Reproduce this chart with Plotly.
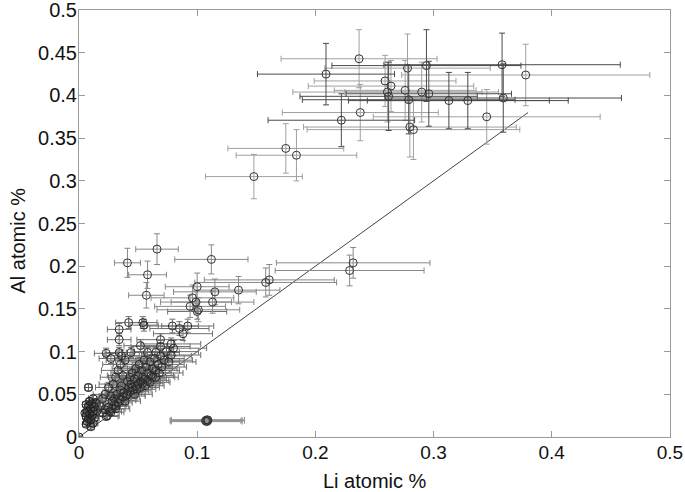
import plotly.graph_objects as go

# ---------------- data (Li atomic %, Al atomic %, x error, y error) ----------------
# upper cluster, dark error bars
upd_x = [0.209, 0.294, 0.358, 0.359, 0.279, 0.313, 0.329, 0.222, 0.262, 0.296]
upd_y = [0.425, 0.435, 0.436, 0.397, 0.395, 0.394, 0.394, 0.371, 0.399, 0.402]
upd_ex = [0.058, 0.080, 0.100, 0.100, 0.090, 0.085, 0.085, 0.062, 0.075, 0.070]
upd_ey = [0.036, 0.042, 0.037, 0.040, 0.040, 0.033, 0.033, 0.031, 0.040, 0.038]

# upper cluster, light error bars
upl_x = [0.237, 0.259, 0.264, 0.261, 0.278, 0.276, 0.290, 0.345, 0.238, 0.280, 0.283,
         0.175, 0.184, 0.148, 0.378]
upl_y = [0.443, 0.417, 0.411, 0.404, 0.432, 0.406, 0.404, 0.375, 0.380, 0.363, 0.360,
         0.338, 0.330, 0.305, 0.424]
upl_ex = [0.066, 0.060, 0.070, 0.080, 0.070, 0.060, 0.065, 0.096, 0.066, 0.090, 0.090,
          0.049, 0.051, 0.041, 0.105]
upl_ey = [0.034, 0.030, 0.030, 0.035, 0.040, 0.035, 0.035, 0.032, 0.033, 0.035, 0.035,
          0.029, 0.030, 0.026, 0.036]

# middle cluster
mid_x = [0.066, 0.041, 0.058, 0.057, 0.112, 0.100, 0.115, 0.096, 0.113, 0.094, 0.101, 0.099,
         0.135, 0.158, 0.161, 0.232, 0.229]
mid_y = [0.220, 0.204, 0.190, 0.166, 0.208, 0.176, 0.170, 0.163, 0.158, 0.153, 0.149, 0.158,
         0.172, 0.181, 0.184, 0.204, 0.195]
mid_ex = [0.018, 0.011, 0.016, 0.015, 0.031, 0.027, 0.035, 0.035, 0.035, 0.030, 0.035, 0.030,
          0.035, 0.060, 0.055, 0.065, 0.063]
mid_ey = [0.018, 0.017, 0.016, 0.015, 0.017, 0.016, 0.015, 0.015, 0.013, 0.013, 0.014, 0.013,
          0.016, 0.017, 0.018, 0.018, 0.018]

# lower cluster
low_x = [0.042, 0.054, 0.034, 0.034, 0.034, 0.044, 0.052, 0.023, 0.027, 0.069, 0.069, 0.079,
         0.085, 0.092, 0.088, 0.078, 0.065, 0.058, 0.100, 0.055,
         0.025, 0.028, 0.030, 0.032, 0.034, 0.035, 0.036, 0.038, 0.040, 0.041, 0.042, 0.043,
         0.044, 0.045, 0.046, 0.047, 0.048, 0.049, 0.050, 0.051, 0.052, 0.053, 0.054, 0.055,
         0.056, 0.057, 0.058, 0.060, 0.061, 0.062, 0.064, 0.065, 0.067, 0.069, 0.070, 0.072,
         0.074, 0.076, 0.078, 0.080,
         0.020, 0.022, 0.024, 0.026, 0.028, 0.030, 0.031, 0.033, 0.035, 0.037, 0.039, 0.041,
         0.043, 0.045, 0.047, 0.049, 0.050, 0.052, 0.054, 0.056, 0.058, 0.060, 0.062, 0.065,
         0.068, 0.015, 0.018, 0.020, 0.022, 0.025, 0.027, 0.029, 0.031, 0.033, 0.035, 0.037,
         0.039, 0.036, 0.023, 0.027, 0.031]
low_y = [0.134, 0.134, 0.126, 0.114, 0.099, 0.099, 0.107, 0.098, 0.092, 0.114, 0.106, 0.130,
         0.127, 0.130, 0.121, 0.109, 0.099, 0.099, 0.147, 0.131,
         0.035, 0.042, 0.038, 0.050, 0.045, 0.055, 0.060, 0.052, 0.048, 0.065, 0.058, 0.070,
         0.062, 0.075, 0.055, 0.068, 0.080, 0.060, 0.072, 0.085, 0.065, 0.078, 0.070, 0.090,
         0.068, 0.082, 0.075, 0.088, 0.072, 0.080, 0.092, 0.078, 0.085, 0.095, 0.082, 0.090,
         0.100, 0.088, 0.096, 0.104,
         0.028, 0.032, 0.025, 0.030, 0.033, 0.045, 0.036, 0.040, 0.043, 0.047, 0.042, 0.050,
         0.053, 0.058, 0.050, 0.056, 0.062, 0.058, 0.063, 0.060, 0.066, 0.064, 0.070, 0.070,
         0.075, 0.030, 0.036, 0.045, 0.050, 0.058, 0.048, 0.062, 0.070, 0.078, 0.085, 0.072,
         0.090, 0.095, 0.024, 0.029, 0.033]
low_ex = [0.011, 0.012, 0.010, 0.010, 0.012, 0.012, 0.014, 0.010, 0.010, 0.020, 0.025, 0.022,
          0.025, 0.022, 0.025, 0.025, 0.020, 0.018, 0.025, 0.012,
          0.010, 0.012, 0.010, 0.012, 0.015, 0.012, 0.014, 0.015, 0.016, 0.015, 0.014, 0.018,
          0.016, 0.018, 0.015, 0.017, 0.020, 0.016, 0.018, 0.022, 0.017, 0.020, 0.018, 0.024,
          0.018, 0.022, 0.020, 0.025, 0.019, 0.021, 0.025, 0.020, 0.022, 0.026, 0.021, 0.024,
          0.027, 0.023, 0.025, 0.028,
          0.008, 0.009, 0.010, 0.010, 0.011, 0.012, 0.011, 0.012, 0.013, 0.014, 0.013, 0.015,
          0.016, 0.017, 0.015, 0.016, 0.018, 0.016, 0.017, 0.016, 0.018, 0.017, 0.019, 0.019,
          0.020, 0.007, 0.008, 0.009, 0.010, 0.011, 0.010, 0.012, 0.013, 0.014, 0.015, 0.013,
          0.016, 0.015, 0.010, 0.011, 0.012]
low_ey = [0.007, 0.007, 0.007, 0.007, 0.006, 0.006, 0.007, 0.006, 0.006, 0.007, 0.007, 0.008,
          0.008, 0.008, 0.008, 0.007, 0.006, 0.006, 0.009, 0.007,
          0.004, 0.005, 0.004, 0.005, 0.005, 0.006, 0.006, 0.005, 0.005, 0.006, 0.006, 0.007,
          0.006, 0.007, 0.006, 0.006, 0.007, 0.006, 0.007, 0.008, 0.006, 0.007, 0.007, 0.008,
          0.006, 0.007, 0.007, 0.008, 0.007, 0.007, 0.008, 0.007, 0.008, 0.008, 0.007, 0.008,
          0.009, 0.008, 0.008, 0.009,
          0.004, 0.004, 0.004, 0.004, 0.004, 0.005, 0.004, 0.005, 0.005, 0.005, 0.005, 0.005,
          0.006, 0.006, 0.005, 0.006, 0.006, 0.006, 0.006, 0.006, 0.006, 0.006, 0.007, 0.007,
          0.007, 0.004, 0.004, 0.005, 0.005, 0.006, 0.005, 0.006, 0.006, 0.007, 0.007, 0.006,
          0.007, 0.007, 0.004, 0.004, 0.004]

# near-zero column
col_x = [0.006, 0.007, 0.008, 0.006, 0.009, 0.007, 0.010, 0.008, 0.011, 0.009, 0.012, 0.010,
         0.011, 0.012, 0.013, 0.014, 0.005, 0.006, 0.013, 0.010, 0.012, 0.008, 0.000]
col_y = [0.015, 0.018, 0.021, 0.024, 0.027, 0.030, 0.033, 0.036, 0.039, 0.042, 0.045, 0.020,
         0.025, 0.030, 0.035, 0.040, 0.028, 0.038, 0.022, 0.012, 0.016, 0.058, 0.000]
col_ex = [0.003, 0.003, 0.003, 0.003, 0.003, 0.003, 0.004, 0.003, 0.004, 0.003, 0.004, 0.003,
          0.004, 0.004, 0.004, 0.004, 0.002, 0.003, 0.004, 0.003, 0.004, 0.003, 0.000]
col_ey = [0.003, 0.003, 0.003, 0.003, 0.003, 0.003, 0.004, 0.003, 0.004, 0.003, 0.004, 0.003,
          0.003, 0.003, 0.003, 0.004, 0.003, 0.003, 0.003, 0.003, 0.003, 0.004, 0.000]

# outlier stack
out_x = [0.107, 0.108, 0.109, 0.108, 0.109]
out_y = [0.019, 0.020, 0.019, 0.018, 0.020]
out_ex = [0.030, 0.030, 0.031, 0.030, 0.031]
out_ey = [0.002, 0.002, 0.002, 0.002, 0.002]

# reference y = x line
line_x = [0.0, 0.38]
line_y = [0.0, 0.38]

x_ticks = [0, 0.1, 0.2, 0.3, 0.4, 0.5]
x_tick_text = ["0", "0.1", "0.2", "0.3", "0.4", "0.5"]
y_ticks = [0, 0.05, 0.1, 0.15, 0.2, 0.25, 0.3, 0.35, 0.4, 0.45, 0.5]
y_tick_text = ["0", "0.05", "0.1", "0.15", "0.2", "0.25", "0.3", "0.35", "0.4", "0.45", "0.5"]

FONT = "Liberation Sans, Arial, Helvetica, sans-serif"

fig = go.Figure()

fig.add_trace(go.Scatter(x=line_x, y=line_y, mode="lines",
                         line=dict(color="#444444", width=1), hoverinfo="skip"))


def add_group(xs, ys, exs, eys, bar_color, mk_color="#333333"):
    fig.add_trace(go.Scatter(
        x=xs, y=ys, mode="markers",
        marker=dict(symbol="circle-open", size=8, color=mk_color, line=dict(width=1, color=mk_color)),
        error_x=dict(type="data", array=exs, visible=True, color=bar_color, thickness=1, width=3),
        error_y=dict(type="data", array=eys, visible=True, color=bar_color, thickness=1, width=3),
    ))


add_group(low_x, low_y, low_ex, low_ey, "#6f6f6f", "#2a2a2a")
add_group(col_x, col_y, col_ex, col_ey, "#555555", "#222222")
add_group(out_x, out_y, out_ex, out_ey, "#909090", "#333333")
add_group(mid_x, mid_y, mid_ex, mid_ey, "#888888")
add_group(upl_x, upl_y, upl_ex, upl_ey, "#a0a0a0")
add_group(upd_x, upd_y, upd_ex, upd_ey, "#4a4a4a")

axis_common = dict(
    showgrid=False, zeroline=False, showline=True, linecolor="#9a9a9a", linewidth=1,
    mirror="ticks", ticks="inside", ticklen=6, tickcolor="#9a9a9a", automargin=False,
    ticklabeloverflow="allow",
)

fig.update_layout(
    width=685, height=492,
    margin=dict(l=79, r=15, t=10, b=55),
    paper_bgcolor="white", plot_bgcolor="white",
    showlegend=False,
    font=dict(family=FONT, size=20, color="#111111"),
    xaxis=dict(range=[0, 0.5001], tickvals=x_ticks, ticktext=x_tick_text,
               ticklabelstandoff=-2, tickfont=dict(family=FONT, size=19, color="#111111"),
               **axis_common),
    yaxis=dict(range=[0, 0.5001], tickvals=y_ticks, ticktext=y_tick_text,
               ticklabelstandoff=-3, tickfont=dict(family=FONT, size=20, color="#111111"),
               **axis_common),
    annotations=[
        dict(text="Li atomic %", xref="paper", yref="paper", x=0.5, y=0, yshift=-44,
             showarrow=False, xanchor="center", yanchor="middle",
             font=dict(family=FONT, size=20, color="#111111")),
        dict(text="Al atomic %", xref="paper", yref="paper", x=0, xshift=-61, y=0.46,
             showarrow=False, xanchor="center", yanchor="middle", textangle=-90,
             font=dict(family=FONT, size=20, color="#111111")),
    ],
)

fig.write_html("out.html", config={"displayModeBar": False},
               post_script="document.body.style.margin='0px';document.body.style.overflow='hidden';")
